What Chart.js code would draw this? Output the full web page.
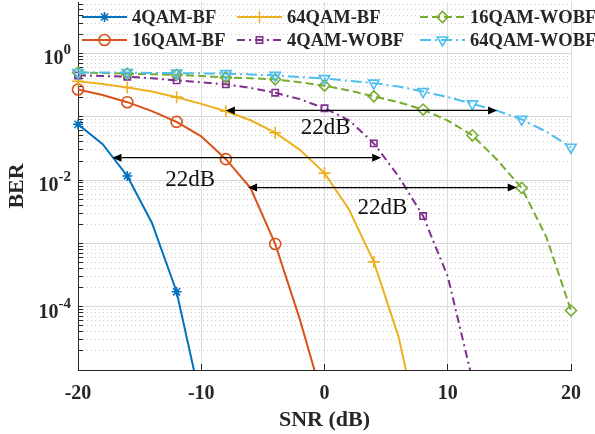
<!DOCTYPE html>
<html>
<head>
<meta charset="utf-8">
<script src="https://cdn.jsdelivr.net/npm/chart.js@4.4.1/dist/chart.umd.min.js"></script>
<style>
  html, body { margin: 0; padding: 0; background: #fff; }
  #wrap { width: 595px; height: 434px; }
</style>
</head>
<body>
<div id="wrap"><canvas id="berChart" width="595" height="434"></canvas></div>
<script>
// SNR in dB, one value every 2 dB (markers every 4 dB)
const snr = [-20, -18, -16, -14, -12, -10, -8, -6, -4, -2, 0, 2, 4, 6, 8, 10, 12, 14, 16, 18, 20];

const ber4qamBF = [0.076, 0.037, 0.0116, 0.0021, 1.72e-4, 3e-6, null, null, null, null, null,
  null, null, null, null, null, null, null, null, null, null];
const ber16qamBF = [0.27, 0.22, 0.17, 0.123, 0.083, 0.049, 0.0214, 0.0075, 9.8e-4, 6.3e-5, 2.8e-6,
  null, null, null, null, null, null, null, null, null, null];
const ber64qamBF = [0.363, 0.33, 0.29, 0.25, 0.204, 0.16, 0.122, 0.088, 0.056, 0.03, 0.0129,
  0.0034, 5.1e-4, 3.4e-5, 6e-7, null, null, null, null, null, null];
const ber4qamWOBF = [0.45, 0.44, 0.43, 0.405, 0.376, 0.35, 0.325, 0.285, 0.24, 0.19, 0.136,
  0.088, 0.038, 0.0115, 0.0027, 3e-4, 7e-6, null, null, null, null];
const ber16qamWOBF = [0.5, 0.49, 0.48, 0.47, 0.46, 0.44, 0.42, 0.405, 0.39, 0.35, 0.31,
  0.26, 0.21, 0.17, 0.13, 0.087, 0.051, 0.021, 0.0075, 0.00126, 8.7e-5];
const ber64qamWOBF = [0.5, 0.5, 0.5, 0.49, 0.49, 0.485, 0.48, 0.465, 0.45, 0.425, 0.40,
  0.37, 0.34, 0.30, 0.25, 0.205, 0.16, 0.125, 0.091, 0.058, 0.033];

const seriesNames = ['4QAM-BF', '16QAM-BF', '64QAM-BF', '4QAM-WOBF', '16QAM-WOBF', '64QAM-WOBF'];
const seriesValues = [ber4qamBF, ber16qamBF, ber64qamBF, ber4qamWOBF, ber16qamWOBF, ber64qamWOBF];

const xTickValues = [-20, -10, 0, 10, 20];
const yDecades = [1e-5, 1e-4, 1e-3, 1e-2, 1e-1, 1];
const yMantissas = [1, 2, 3, 4, 5, 6, 7, 8, 9];
const yLabelValues = [1, 1e-2, 1e-4];
const yLabelBase = '10';
const yLabelExp = ['0', '-2', '-4'];

// 22 dB gap arrows and their notes
const arrowFrom = [-8, -17.2, -6.2];
const arrowTo = [14, 4.6, 15.6];
const arrowBer = [0.126, 0.0226, 0.0076];
const noteSnr = [0.1, -10.9, 4.7];
const noteBer = [0.066, 0.0102, 0.0036];
const noteText = ['22dB', '22dB', '22dB'];

const colors = ['#0072BD', '#D95319', '#EDB120', '#7E2F8E', '#77AC30', '#4DBEEE'];
const dashes = [[], [], [], [8, 4, 2, 4], [8, 4], [11, 4, 2, 4]];
const markers = ['star', 'circle', 'cross', 'rect', 'rectRot', 'triangle'];
const markerSize = [5, 5.5, 6, 4.5, 5.5, 6];
const markerRot = [0, 0, 0, 0, 0, 180];

const FONT = '"Liberation Serif", "Times New Roman", serif';
const INK = '#262626';

const yTickValues = [];
yDecades.forEach(d => yMantissas.forEach(m => {
  const v = +(m * d).toPrecision(3);
  if (v <= 6.5) yTickValues.push(v);
}));
const isDecade = v => Math.abs(Math.log10(v) - Math.round(Math.log10(v))) < 1e-6;

const datasets = seriesNames.map((name, i) => ({
  label: name,
  data: snr.map((x, k) => ({ x: x, y: seriesValues[i][k] })),
  borderColor: colors[i],
  backgroundColor: colors[i],
  borderWidth: 2,
  borderDash: dashes[i],
  pointStyle: markers[i],
  pointRotation: markerRot[i],
  pointRadius: snr.map((x, k) => (k % 2 === 0 ? markerSize[i] : 0)),
  pointBorderWidth: 1.6,
  pointBorderColor: colors[i],
  pointBackgroundColor: 'rgba(0,0,0,0)',
  tension: 0,
  clip: { left: 10, right: 10, top: 10, bottom: 0 },
  order: seriesNames.length - i
}));

const notesPlugin = {
  id: 'notes',
  afterDatasetsDraw(chart) {
    const { ctx, scales: { x, y } } = chart;
    ctx.save();
    ctx.strokeStyle = '#000';
    ctx.fillStyle = '#000';
    ctx.lineWidth = 1.3;
    const hl = 9, hw = 4;
    arrowFrom.forEach((s, i) => {
      const x1 = x.getPixelForValue(s);
      const x2 = x.getPixelForValue(arrowTo[i]);
      const py = y.getPixelForValue(arrowBer[i]);
      ctx.beginPath();
      ctx.moveTo(x1 + hl, py);
      ctx.lineTo(x2 - hl, py);
      ctx.stroke();
      ctx.beginPath();
      ctx.moveTo(x1, py); ctx.lineTo(x1 + hl, py - hw); ctx.lineTo(x1 + hl, py + hw); ctx.closePath();
      ctx.fill();
      ctx.beginPath();
      ctx.moveTo(x2, py); ctx.lineTo(x2 - hl, py - hw); ctx.lineTo(x2 - hl, py + hw); ctx.closePath();
      ctx.fill();
    });
    ctx.font = '23px ' + FONT;
    ctx.textAlign = 'center';
    ctx.textBaseline = 'middle';
    ctx.fillStyle = '#111';
    noteText.forEach((t, i) => {
      ctx.fillText(t, x.getPixelForValue(noteSnr[i]), y.getPixelForValue(noteBer[i]));
    });
    ctx.restore();
  }
};

// 10^n labels with a raised exponent, placed on the log axis ticks
const expLabelPlugin = {
  id: 'expLabels',
  afterDraw(chart) {
    const { ctx, scales: { y } } = chart;
    const right = y.right - 7;
    ctx.save();
    ctx.fillStyle = INK;
    ctx.textBaseline = 'alphabetic';
    ctx.textAlign = 'left';
    yLabelValues.forEach((v, i) => {
      const ty = y.getPixelForValue(v);
      ctx.font = 'bold 15px ' + FONT;
      const ew = ctx.measureText(yLabelExp[i]).width;
      ctx.fillText(yLabelExp[i], right - ew, ty + 1);
      ctx.font = 'bold 20px ' + FONT;
      const bw = ctx.measureText(yLabelBase).width;
      ctx.fillText(yLabelBase, right - ew - bw, ty + 11);
    });
    ctx.restore();
  }
};

// legend laid out in 3 columns x 2 rows like the original figure
const legendCols = [82, 237, 420];
const legendRows = [17, 40];
const legendPlugin = {
  id: 'gridLegend',
  afterDraw(chart) {
    const ctx = chart.ctx;
    const drawPoint = Chart.helpers && Chart.helpers.drawPoint;
    ctx.save();
    chart.data.datasets.forEach((ds, i) => {
      const x0 = legendCols[Math.floor(i / 2)];
      const yy = legendRows[i % 2];
      ctx.strokeStyle = ds.borderColor;
      ctx.lineWidth = 2;
      ctx.setLineDash(ds.borderDash);
      ctx.beginPath();
      ctx.moveTo(x0, yy);
      ctx.lineTo(x0 + 45, yy);
      ctx.stroke();
      ctx.setLineDash([]);
      if (drawPoint) {
        ctx.fillStyle = 'rgba(0,0,0,0)';
        ctx.lineWidth = 1.6;
        drawPoint(ctx, { pointStyle: ds.pointStyle, rotation: ds.pointRotation, radius: markerSize[i], borderWidth: 1.6 }, x0 + 22.5, yy);
      }
      ctx.fillStyle = INK;
      ctx.font = 'bold 18.5px ' + FONT;
      ctx.textAlign = 'left';
      ctx.textBaseline = 'middle';
      ctx.fillText(ds.label, x0 + 50, yy + 1);
    });
    ctx.restore();
  }
};

new Chart(document.getElementById('berChart'), {
  type: 'line',
  data: { datasets: datasets },
  plugins: [notesPlugin, expLabelPlugin, legendPlugin],
  options: {
    responsive: false,
    animation: false,
    devicePixelRatio: 1,
    layout: { autoPadding: false, padding: { top: 2, right: 24, left: 0, bottom: 0 } },
    plugins: { legend: { display: false }, tooltip: { enabled: false } },
    events: [],
    scales: {
      x: {
        type: 'linear',
        min: -20,
        max: 20,
        afterBuildTicks: s => { s.ticks = xTickValues.map(v => ({ value: v })); },
        afterFit: s => { s.height = 64; s.paddingLeft = 0; s.paddingRight = 0; },
        ticks: {
          autoSkip: false,
          maxRotation: 0,
          padding: 18,
          color: INK,
          font: { family: FONT, size: 20, weight: 'bold' }
        },
        grid: { color: '#dedede', lineWidth: 1, tickLength: -6, tickColor: INK },
        border: { color: INK, width: 1 },
        title: {
          display: true,
          text: 'SNR (dB)',
          color: INK,
          font: { family: FONT, size: 22, weight: 'bold' },
          padding: { top: 0, bottom: 0 }
        }
      },
      y: {
        type: 'logarithmic',
        min: 1e-5,
        max: 6.5,
        afterBuildTicks: s => { s.ticks = yTickValues.map(v => ({ value: v, major: isDecade(v) })); },
        afterFit: s => { s.width = 78; s.paddingTop = 0; s.paddingBottom = 0; },
        ticks: {
          autoSkip: false,
          padding: 12,
          color: INK,
          font: { family: FONT, size: 20, weight: 'bold' },
          callback: () => ''
        },
        grid: {
          color: c => (c.tick && isDecade(c.tick.value) ? '#d6d6d6' : '#cccccc'),
          lineWidth: 1,
          tickLength: -5,
          tickColor: INK
        },
        border: {
          color: INK,
          width: 1,
          dash: c => (c.tick && !isDecade(c.tick.value) ? [1, 3] : [])
        },
        title: {
          display: true,
          text: 'BER',
          color: INK,
          font: { family: FONT, size: 22, weight: 'bold' },
          padding: { top: 4, bottom: 0 }
        }
      }
    }
  }
});
</script>
</body>
</html>
